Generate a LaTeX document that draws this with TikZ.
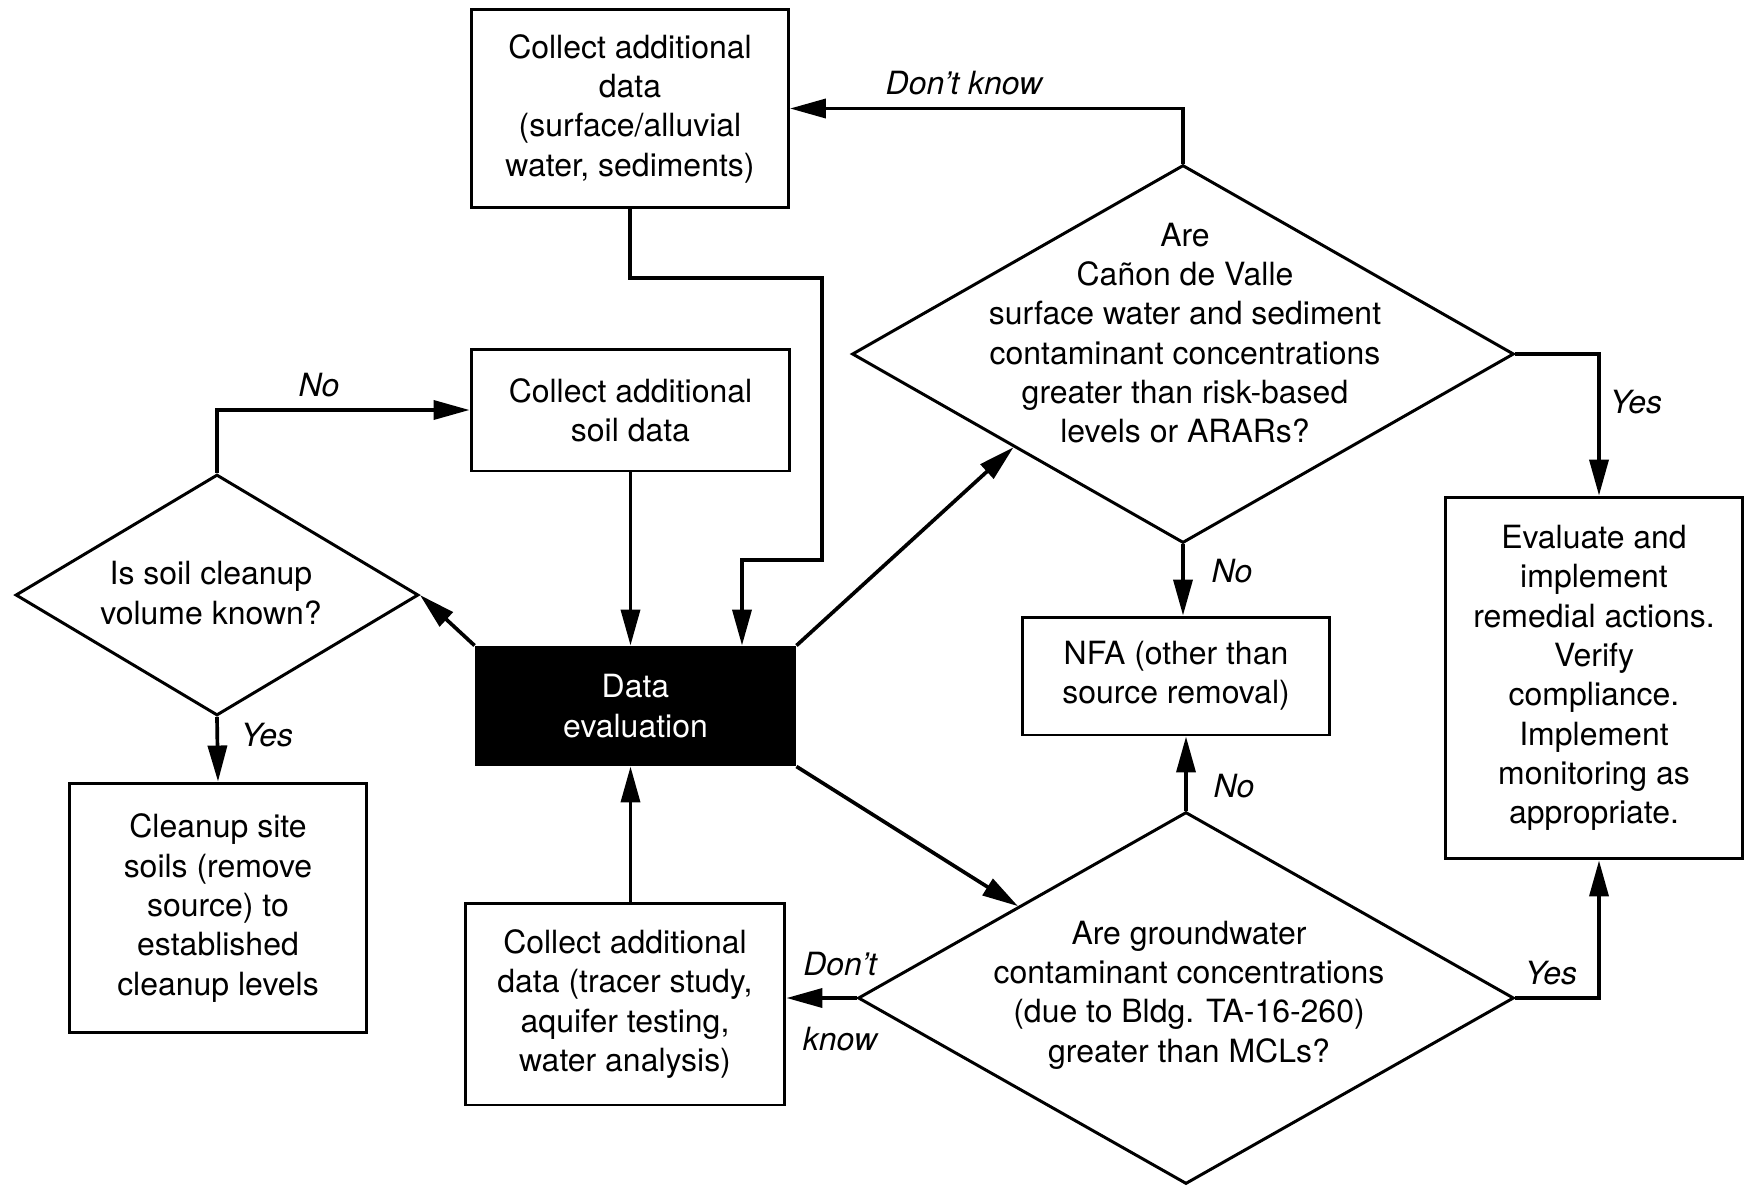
\documentclass[tikz,border=0pt]{standalone}
\usepackage{fontspec}
\setmainfont{TeX Gyre Heros}
\usetikzlibrary{shapes.geometric,arrows.meta,calc}
\begin{document}
\begin{tikzpicture}[x=0.02cm,y=-0.02cm,
  fnt/.style={font=\fontsize{18.2}{22.4}\selectfont},
  box/.style={draw, line width=1.7pt, align=center, inner sep=0pt, fnt},
  dia/.style={draw, diamond, line width=1.7pt, inner sep=0pt},
  txt/.style={align=center, fnt},
  lbl/.style={font=\fontsize{18.2}{22.4}\selectfont\itshape},
  arr/.style={line width=2.1pt, -{Triangle[length=0.72cm,width=0.38cm]}}
]
\useasboundingbox (0,0) rectangle (1745,1191);

% boxes
\node[box, minimum width=6.34cm, minimum height=3.98cm] (b1) at (630,108.5)
  {Collect additional\\data\\(surface/alluvial\\water, sediments)};
\node[box, minimum width=6.38cm, minimum height=2.44cm] (b2) at (630.5,410)
  {Collect additional\\soil data};
\node[box, fill=black, text=white, minimum width=6.38cm, minimum height=2.36cm] (de) at (635.5,706)
  {Data\\evaluation};
\node[box, minimum width=5.96cm, minimum height=5.0cm] (b3) at (218,908)
  {Cleanup site\\soils (remove\\source) to\\established\\cleanup levels};
\node[box, minimum width=6.4cm, minimum height=4.04cm] (b4) at (625,1004)
  {Collect additional\\data (tracer study,\\aquifer testing,\\water analysis)};
\node[box, minimum width=6.16cm, minimum height=2.36cm] (b5) at (1176,676)
  {NFA (other than\\source removal)};
\node[box, minimum width=5.96cm, minimum height=7.24cm] (b6) at (1594,678)
  {Evaluate and\\implement\\remedial actions.\\Verify\\compliance.\\Implement\\monitoring as\\appropriate.};

% diamonds
\node[dia, minimum width=8.06cm, minimum height=4.82cm] (d0) at (217,595) {};
\node[txt] (d0t) at (211,593) {Is soil cleanup\\volume known?};
\node[dia, minimum width=13.24cm, minimum height=7.56cm] (d1) at (1183,354) {};
\node[txt] (d1t) at (1185,333) {Are\\Cañon de Valle\\surface water and sediment\\contaminant concentrations\\greater than risk-based\\levels or ARARs?};
\node[dia, minimum width=13.12cm, minimum height=7.44cm] (d2) at (1186,998) {};
\node[txt] (d2t) at (1189,995) {Are groundwater\\contaminant concentrations\\(due to Bldg. TA-16-260)\\greater than MCLs?};

% helper coordinates
\coordinate (j1) at (822,278);
\coordinate (j2) at (822,560);
\coordinate (j3) at (742,560);
\coordinate (rx) at (1599,0);

% connectors
\draw[arr] (d1.north) |- (b1.east);
\draw[arr] (b1.south) |- (j1) -- (j2) -- (j3) -- (j3 |- de.north);
\draw[arr] (b2.south) -- (b2.south |- de.north);
\draw[arr] (d0.north) |- (b2.west);
\draw[arr] (de.north west) -- (d0.east);
\draw[arr] (d0.south) -- (b3.north);
\draw[arr] (de.north east) -- ($(d1.west)!0.49!(d1.south)$);
\draw[arr] (de.south east) -- ($(d2.west)!0.49!(d2.north)$);
\draw[arr] (b4.north -| b2.south) -- (de.south -| b2.south);
\draw[arr] (d1.south) -- (b5.north -| d1.south);
\draw[arr] (d2.north) -- (b5.south -| d2.north);
\draw[arr] (d2.west) -- (d2.west -| b4.east);
\draw[arr] (d1.east) -| (rx |- b6.north);
\draw[arr] (d2.east) -| (rx |- b6.south);

% labels
\node[lbl] (l1) at (964,83) {Don't know};
\node[lbl] (l2) at (319,385) {No};
\node[lbl] (l3) at (267,735) {Yes};
\node[lbl] (l4) at (1232,571) {No};
\node[lbl] (l5) at (1234,786) {No};
\node[lbl] (l6) at (1636,402) {Yes};
\node[lbl] (l7) at (1551,973) {Yes};
\node[lbl] (l8) at (840,964) {Don't};
\node[lbl] (l9) at (840,1039) {know};
\end{tikzpicture}
\end{document}
